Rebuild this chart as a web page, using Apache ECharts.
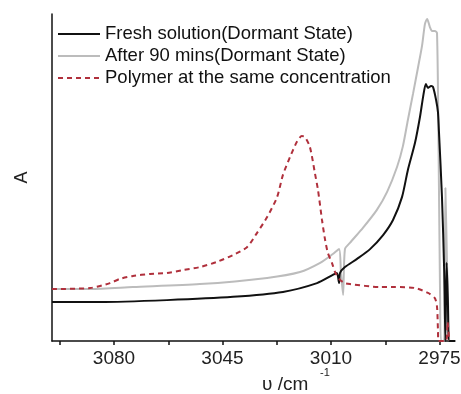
<!DOCTYPE html>
<html>
<head>
<meta charset="utf-8">
<script src="https://cdn.jsdelivr.net/npm/echarts@6/dist/echarts.min.js"></script>
<style>
  html, body { margin: 0; padding: 0; background: #fff; }
  #chart { width: 461px; height: 394px; }
</style>
</head>
<body>
<div id="chart"></div>
<script>
// IR absorbance spectra, wavenumber (cm^-1) vs absorbance (a.u.)
const seriesNames = [
  'Fresh solution(Dormant State)',
  'After 90 mins(Dormant State)',
  'Polymer at the same concentration'
];

const freshWavenumber = [3100.0, 3084.5, 3062.9, 3041.6, 3025.5, 3014.5, 3009.4, 3008.1, 3007.4, 3007.1,
  3005.5, 3001.6, 2997.4, 2993.2, 2990.0, 2987.1, 2985.2, 2982.9, 2981.3, 2980.3,
  2979.4, 2978.7, 2977.7, 2977.1, 2976.1, 2975.5, 2975.2, 2974.2, 2973.5, 2973.1,
  2972.7, 2972.3, 2971.8, 2970.0];
const freshAbs = [0.119, 0.119, 0.125, 0.135, 0.150, 0.177, 0.202, 0.208, 0.177, 0.208,
  0.226, 0.251, 0.281, 0.324, 0.370, 0.440, 0.523, 0.606, 0.685, 0.746,
  0.786, 0.774, 0.780, 0.777, 0.737, 0.700, 0.645, 0.440, 0.217, 0.000,
  0.239, 0.125, 0.000, 0.000];

const agedWavenumber = [3100.0, 3087.7, 3073.9, 3052.3, 3030.6, 3020.0, 3013.5, 3009.4, 3007.4, 3006.8,
  3006.1, 3005.5, 3003.9, 2999.7, 2995.2, 2991.9, 2988.7, 2986.8, 2985.2, 2983.5,
  2981.9, 2980.6, 2979.7, 2979.0, 2978.1, 2977.4, 2976.5, 2975.8, 2975.3, 2974.8,
  2974.5, 2973.5, 2973.1, 2972.6, 2971.9];
const agedAbs = [0.159, 0.159, 0.165, 0.174, 0.193, 0.211, 0.239, 0.266, 0.281, 0.211,
  0.141, 0.281, 0.300, 0.346, 0.401, 0.456, 0.532, 0.596, 0.676, 0.758,
  0.838, 0.905, 0.969, 0.985, 0.960, 0.948, 0.948, 0.942, 0.584, 0.125,
  0.000, 0.000, 0.468, 0.248, 0.000];

const polymerWavenumber = [3100.0, 3087.7, 3081.3, 3078.1, 3073.9, 3068.4, 3062.9, 3057.7, 3052.3, 3046.8,
  3041.6, 3037.1, 3033.9, 3030.6, 3027.4, 3025.5, 3023.2, 3021.0, 3019.4, 3018.4,
  3016.8, 3015.2, 3014.2, 3012.9, 3011.9, 3011.0, 3009.7, 3008.7, 3007.1, 3005.5,
  3003.9, 2994.2, 2989.4, 2982.9, 2978.7, 2976.5, 2975.8, 2975.5, 2975.3, 2972.9,
  2972.4, 2971.9];
const polymerAbs = [0.159, 0.162, 0.177, 0.190, 0.199, 0.205, 0.208, 0.217, 0.226, 0.242,
  0.263, 0.287, 0.330, 0.379, 0.440, 0.508, 0.563, 0.609, 0.627, 0.624,
  0.593, 0.514, 0.462, 0.370, 0.309, 0.269, 0.239, 0.211, 0.187, 0.177,
  0.174, 0.165, 0.165, 0.162, 0.147, 0.131, 0.104, 0.034, 0.000, 0.000,
  0.058, 0.000];

// axis ticks
const tickLabels = [3080, 3045, 3010, 2975];
const tickMarks = [3097.5, 3080, 3062.5, 3045, 3027.5, 3010, 2992.5, 2975];

const pair = (xs, ys) => xs.map((x, i) => [x, ys[i]]);

const chart = echarts.init(document.getElementById('chart'), null, { renderer: 'canvas' });
const FONT = '"Liberation Sans", Arial, sans-serif';

chart.setOption({
  animation: false,
  backgroundColor: '#ffffff',
  grid: { left: 52, right: 6, top: 14, bottom: 53, containLabel: false, outerBoundsMode: 'none' },
  legend: {
    orient: 'vertical',
    left: 57,
    top: 23,
    itemWidth: 42,
    itemHeight: 12,
    itemGap: 0,
    padding: 0,
    itemStyle: { opacity: 0 },
    textStyle: { fontFamily: FONT, fontSize: 18.5, color: '#111', lineHeight: 22 },
    data: seriesNames
  },
  xAxis: {
    type: 'value',
    inverse: true,
    min: 2970,
    max: 3100,
    axisLine: { show: true, onZero: false, lineStyle: { color: '#111', width: 1.5 } },
    axisTick: { show: true, length: 4, customValues: tickMarks, lineStyle: { color: '#111', width: 1.5 } },
    axisLabel: {
      customValues: tickLabels, fontFamily: FONT, fontSize: 19, color: '#222', margin: 8,
      formatter: (v) => String(v)
    },
    splitLine: { show: false }
  },
  yAxis: {
    type: 'value',
    min: 0,
    max: 1,
    name: 'A',
    nameLocation: 'middle',
    nameGap: 21,
    nameTextStyle: { fontFamily: FONT, fontSize: 18, color: '#222' },
    axisLine: { show: true, lineStyle: { color: '#111', width: 1.5 } },
    axisTick: { show: false },
    axisLabel: { show: false },
    splitLine: { show: false }
  },
  graphic: [
    {
      type: 'text', left: 262, top: 375,
      style: { text: 'υ /cm', fontFamily: FONT, fontSize: 19, fill: '#222' }
    },
    {
      type: 'text', left: 320, top: 367,
      style: { text: '-1', fontFamily: FONT, fontSize: 11, fill: '#222' }
    }
  ],
  series: [
    {
      name: seriesNames[0], type: 'line', symbol: 'none', clip: true, smooth: 0.25,
      data: pair(freshWavenumber, freshAbs),
      lineStyle: { color: '#111111', width: 2 },
      itemStyle: { color: '#111111' }, z: 3
    },
    {
      name: seriesNames[1], type: 'line', symbol: 'none', clip: true, smooth: 0.25,
      data: pair(agedWavenumber, agedAbs),
      lineStyle: { color: '#bcbcbc', width: 2 },
      itemStyle: { color: '#bcbcbc' }, z: 2
    },
    {
      name: seriesNames[2], type: 'line', symbol: 'none', clip: true, smooth: 0.25,
      data: pair(polymerWavenumber, polymerAbs),
      lineStyle: { color: '#b0303c', width: 2, type: [5, 4] },
      itemStyle: { color: '#b0303c' }, z: 4
    }
  ]
});
</script>
</body>
</html>
